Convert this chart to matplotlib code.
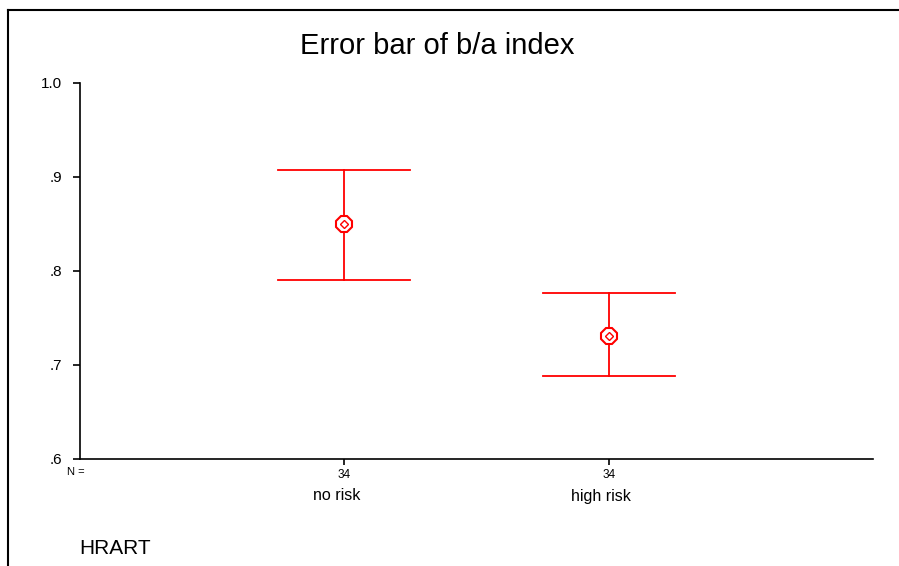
import matplotlib
matplotlib.use("Agg")
import matplotlib.pyplot as plt
from matplotlib.lines import Line2D
from matplotlib.transforms import blended_transform_factory

plt.rcParams['font.family'] = ['Liberation Sans', 'DejaVu Sans']

categories = ["no risk", "high risk"]
n_values = [34, 34]
means = [0.850, 0.731]
upper = [0.907, 0.777]
lower = [0.790, 0.688]
yticks = [0.6, 0.7, 0.8, 0.9, 1.0]
ytick_labels = [".6", ".7", ".8", ".9", "1.0"]

fig = plt.figure(figsize=(8.99, 5.66), dpi=100)
ax = fig.add_axes([80/899, 1-459/566, (873-80)/899, (459-83)/566])

red = "#ff0000"
xs = [1, 2]
cap = 0.25
for x, m, lo, hi in zip(xs, means, lower, upper):
    ax.plot([x, x], [lo, hi], color=red, lw=1.3)
    ax.plot([x-cap, x+cap], [hi, hi], color=red, lw=1.3)
    ax.plot([x-cap, x+cap], [lo, lo], color=red, lw=1.3)
    ax.plot([x], [m], marker='8', ms=12.5, mfc='white', mec=red, mew=1.5)
    ax.plot([x], [m], marker='D', ms=4, mfc='none', mec=red, mew=1.0)

ax.set_xlim(0, 3)
ax.set_ylim(0.6, 1.0)
ax.set_yticks(yticks)
ax.set_yticklabels(ytick_labels, fontsize=11)
ax.set_xticks(xs)
ax.set_xticklabels([str(n) for n in n_values], fontsize=8.5)
ax.spines['top'].set_visible(False)
ax.spines['right'].set_visible(False)
ax.spines['left'].set_linewidth(1.2)
ax.spines['bottom'].set_linewidth(1.2)
ax.tick_params(axis='y', length=5, width=1.2, pad=8)
ax.tick_params(axis='x', length=4, width=1.2, pad=3)
ax.patch.set_visible(False)

trans = blended_transform_factory(ax.transData, fig.transFigure)
for x, c in zip(xs, categories):
    ax.text(x - 0.03, 1-496/566, c, transform=trans, ha='center', va='center', fontsize=11.5)
fig.text(76/899, 1-472/566, "N =", ha='center', va='center', fontsize=8)

fig.text(437/899, 1-46/566, "Error bar of b/a index", ha='center', va='center', fontsize=21)
fig.text(79/899, 1-548/566, "HRART", ha='left', va='center', fontsize=15)

fig.add_artist(Line2D([8/899, 8/899], [0, 1-10/566], transform=fig.transFigure, color='black', lw=1.5))
fig.add_artist(Line2D([8/899, 1], [1-10/566, 1-10/566], transform=fig.transFigure, color='black', lw=1.5))

fig.savefig("out.png", dpi=100)
